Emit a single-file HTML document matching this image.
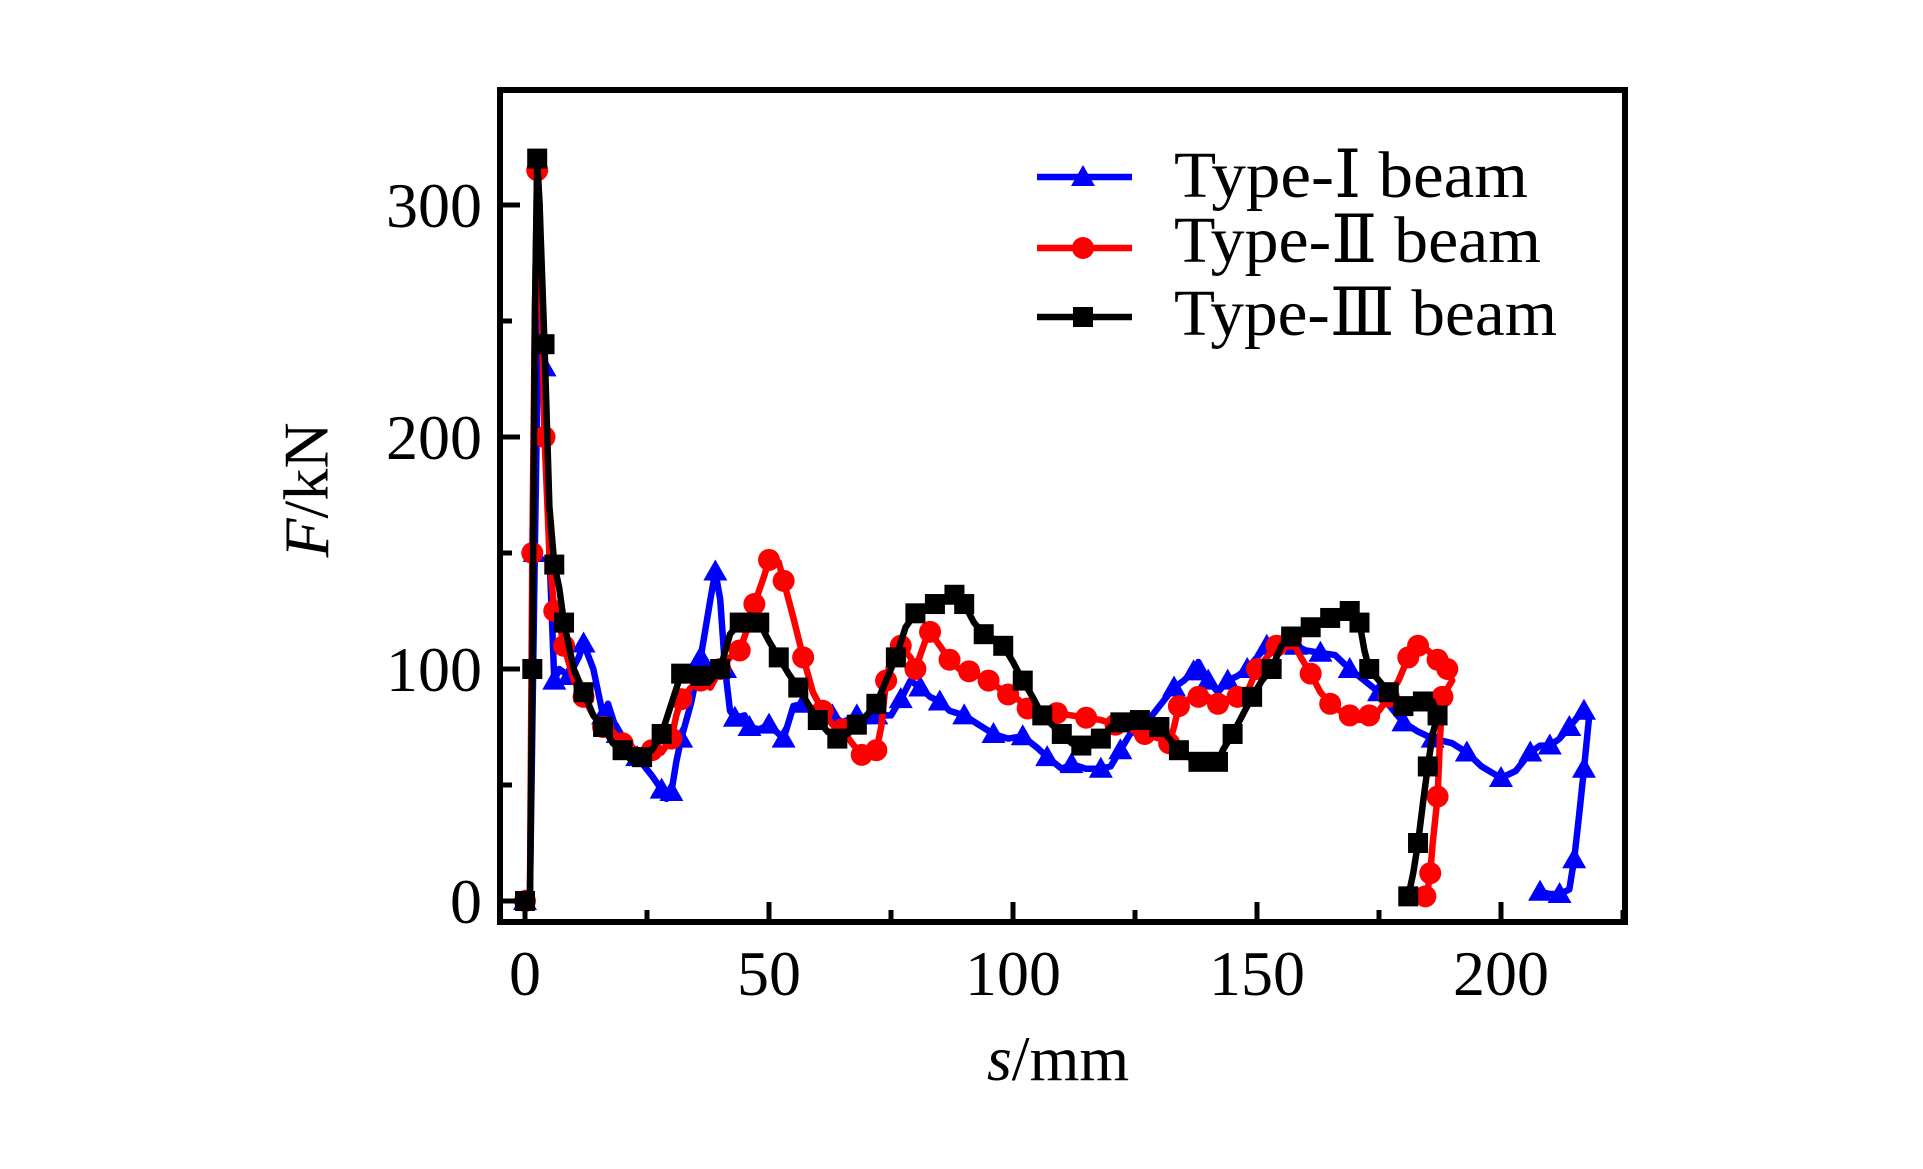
<!DOCTYPE html>
<html><head><meta charset="utf-8"><style>
html,body{margin:0;padding:0;background:#fff;}
svg{display:block;font-family:"Liberation Serif","DejaVu Serif",serif;}
</style></head><body>
<svg id="chart" width="1923" height="1169" viewBox="0 0 1923 1169" xmlns="http://www.w3.org/2000/svg">
<rect width="1923" height="1169" fill="#fff"/>
<g id="plot"></g>
<g id="axes"></g>
<text x="313" y="490" transform="rotate(-90 313 490)" text-anchor="middle" dominant-baseline="middle" font-size="64"><tspan font-style="italic">F</tspan>/kN</text>
<text x="1058" y="1080" text-anchor="middle" font-size="64"><tspan font-style="italic">s</tspan>/mm</text>
<g id="legend"></g>
</svg>
<script>
const xTicks=[0,50,100,150,200];
const yTicks=[0,100,200,300];
const seriesNames=["Type-Ⅰ beam","Type-Ⅱ beam","Type-Ⅲ beam"];
const s1=[0,1,2,3,4,5,6,7,9,11,12,14,16,17,19,21,23,26,28,29,30,31,32,34,36,38,39,40,41,42,43,45,46,48,50,52,53,55,57,60,63,65,68,70,72,75,77,79,81,83,85,87,90,93,96,99,102,105,107,110,112,115,118,120,122,124,127,130,133,135,137,138,140,142,144,146,148,150,152,155,158,160,163,166,169,172,175,178,180,183,186,190,193,196,200,203,206,208,210,212,214,216,217,218,217,216,215,214,212,210,208];
const f1=[0,0,150,280,230,150,95,100,97,105,111,100,80,85,72,70,62,54,48,44,47,60,70,85,105,130,142,130,100,82,79,80,75,74,76,72,70,84,85,82,80,77,80,78,80,80,87,95,92,88,86,82,80,76,72,70,71,66,62,57,59,57,57,58,65,72,76,84,92,95,99,103,95,90,95,97,100,105,110,112,110,108,107,106,100,95,90,82,77,73,70,68,64,58,53,56,64,67,67,70,75,80,82,78,57,37,18,5,3,3,4];
const s2=[0,1,1.5,2,2.5,3,4,5,6,7,8,10,12,14,16,18,20,23,26,28,30,31,32,34,36,38,40,42,44,46,47,49,50,52,53,55,57,59,61,63,65,67,69,70,72,73,74,75,77,79,80,82,83,85,87,89,91,93,95,97,99,101,103,106,109,112,115,118,121,124,127,130,132,133,134,136,138,140,142,144,146,148,150,152,154,156,157,159,161,163,165,167,169,171,173,175,177,179,181,182,183,185,187,188,189,190,188,187.5,187,186,185.5,185,184.5,184];
const f2=[0,0,150,250,315,300,200,150,125,120,110,95,88,80,75,73,68,65,65,64,70,80,87,92,95,92,100,105,108,120,128,140,147,146,138,122,105,90,82,76,74,68,63,62,65,75,95,105,110,105,100,112,116,110,104,100,99,97,95,92,89,87,83,80,81,80,79,78,76,74,72,70,68,75,84,87,88,88,85,87,88,90,100,105,110,115,113,105,98,90,85,82,80,78,80,82,88,95,105,108,110,108,104,102,100,95,88,70,45,25,12,5,2,0];
const s3=[0,1,1.5,2,2.5,3,4,5,6,7,8,10,12,14,16,18,20,22,24,26,28,30,32,34,36,38,40,42,44,46,48,50,52,54,56,58,60,62,64,66,68,70,72,74,76,78,80,82,84,86,88,89,90,92,94,96,98,100,102,104,106,108,110,112,114,116,118,120,122,124,126,128,130,132,134,136,138,140,142,143,145,147,149,151,153,155,157,159,161,163,165,167,169,170,171,172,173,175,177,179,180,182,184,186,187,186,185,184,183,182,181,180];
const f3=[0,0,100,250,320,300,240,170,145,135,120,100,90,80,75,68,65,60,62,65,72,85,98,100,97,95,100,115,120,123,120,112,105,98,92,85,78,73,70,72,76,80,85,95,105,118,124,126,128,130,132,133,128,120,115,113,110,103,95,88,80,76,72,68,67,68,70,75,77,78,78,78,75,70,65,62,60,60,60,65,72,80,88,95,100,110,114,117,118,120,122,124,125,125,120,108,100,95,90,86,84,84,86,86,80,72,58,42,25,12,2,0];

const NS="http://www.w3.org/2000/svg";
const X0=525,X1=1501,Y0=901,Y1=205;
const xs=v=>X0+(v/200)*(X1-X0);
const ys=v=>Y0-(v/300)*(Y0-Y1);
function mk(t,a,p){const e=document.createElementNS(NS,t);for(const k in a)e.setAttribute(k,a[k]);p.appendChild(e);return e;}
const plot=document.getElementById('plot'),axes=document.getElementById('axes'),leg=document.getElementById('legend');
const colors=["#0000ff","#ff0000","#000000"];
const all=[[s1,f1],[s2,f2],[s3,f3]];
function marker(kind,x,y,c,p){
  let m;
  if(kind===0){m=mk('polygon',{points:`${x},${y-12} ${x-12},${y+9} ${x+12},${y+9}`,fill:c},p);}
  else if(kind===1){m=mk('circle',{cx:x,cy:y,r:11,fill:c},p);}
  else {m=mk('rect',{x:x-10,y:y-10,width:20,height:20,fill:c},p);}
  return m;
}
all.forEach(([S,F],i)=>{
  const d=S.map((v,j)=>(j?'L':'M')+xs(v).toFixed(1)+','+ys(F[j]).toFixed(1)).join('');
  const pth=mk('path',{d:d,fill:'none',stroke:colors[i],'stroke-width':6.5,'stroke-linejoin':'round'},plot);
  
  
  S.forEach((v,j)=>{ if(j%2===0){
    const m=marker(i,xs(v),ys(F[j]),colors[i],plot);
    
    
  }});
});
const fr=mk('rect',{x:500,y:90,width:1125,height:832,fill:'none',stroke:'#000','stroke-width':6},axes);


for(let v=0;v<=325;v+=50){
  const major=v%100===0;
  const t=mk('line',{x1:500,x2:major?520:512,y1:ys(v),y2:ys(v),stroke:'#000','stroke-width':5},axes);
  
  
}
for(let v=0;v<=225;v+=25){
  const major=v%50===0;
  const t=mk('line',{x1:xs(v),x2:xs(v),y1:922,y2:major?902:910,stroke:'#000','stroke-width':5},axes);
  
  
}
yTicks.forEach(v=>{
  const t=mk('text',{x:482,y:ys(v)+22,'text-anchor':'end','font-size':64},axes);
  t.textContent=v;
  
  
});
xTicks.forEach(v=>{
  const t=mk('text',{x:xs(v),y:995,'text-anchor':'middle','font-size':64},axes);
  t.textContent=v;
  
  
});
const ly=[177,248,317];
const lb=[197,262,335];
const lw=[354,367,383];
seriesNames.forEach((n,i)=>{
  const g=mk('g',{},leg);
  
  
  mk('line',{x1:1037,x2:1132,y1:ly[i],y2:ly[i],stroke:colors[i],'stroke-width':6.5},g);
  marker(i,1083,ly[i],colors[i],g);
  const t=mk('text',{x:1174,y:lb[i],'font-size':66,textLength:lw[i],lengthAdjust:'spacingAndGlyphs'},g);
  t.textContent=n;
});
</script>
</body></html>
